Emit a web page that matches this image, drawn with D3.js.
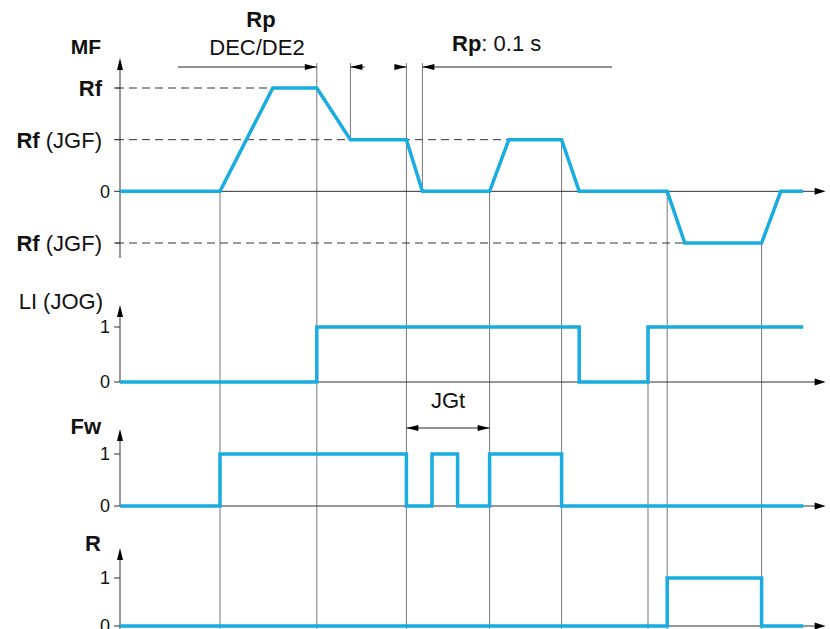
<!DOCTYPE html>
<html lang="en">
  <head>
    <meta charset="UTF-8" />
    <title>JOG timing</title>
    <script src="https://cdn.jsdelivr.net/npm/d3@7"></script>
    <style>
      html,
      body {
        margin: 0;
        padding: 0;
        background: #fff;
      }
      svg {
        display: block;
        font-family: 'Liberation Sans', Arial, sans-serif;
      }
    </style>
  </head>
  <body>
    <svg width="830" height="629"></svg>
    <script>
      // time in seconds (Rp = 0.1 s)
      const mfTimes = [0, 0.625, 0.955, 1.23, 1.44, 1.79, 1.89, 2.31, 2.43, 2.76, 2.87, 3.42, 3.53, 4.01, 4.13, 4.27];
      const mfValues = [0, 0, 2, 2, 1, 1, 0, 0, 1, 1, 0, 0, -1, -1, 0, 0];

      const liTimes = [0, 1.23, 2.87, 3.3, 4.27];
      const liValues = [0, 1, 0, 1, 1];

      const fwTimes = [0, 0.625, 1.79, 1.95, 2.11, 2.31, 2.76, 4.27];
      const fwValues = [0, 1, 0, 1, 0, 1, 0, 0];

      const rTimes = [0, 3.42, 4.01, 4.27];
      const rValues = [0, 1, 0, 0];

      // MF levels: Rf = 2, Rf (JGF) = 1, 0, -Rf (JGF) = -1
      const mfLevels = [2, 1, 0, -1];
      const mfLevelLabels = [['Rf', ''], ['Rf', ' (JGF)'], ['', '0'], ['Rf', ' (JGF)']];

      // vertical reference lines: time and where they start
      const markerTimes = [0.625, 1.23, 1.44, 1.79, 1.89, 2.31, 2.76, 3.3, 3.42, 4.01];
      const markerStart = ['mf0', 'top', 'top', 'top', 'top', 'mf0', 'mf1', 'li0', 'mf0', 'mfm1'];
      const markerEnd = ['bottom', 'bottom', 'mf1', 'bottom', 'mf0', 'bottom', 'bottom', 'bottom', 'bottom', 'bottom'];

      const svg = d3.select('svg');
      const W = 830, H = 629;
      const blue = '#19ace0';
      const axisColor = '#333';
      const gridColor = '#777';

      const x = d3.scaleLinear().domain([0, 4.41]).range([120, 825.6]);
      const yMF = d3.scaleLinear().domain([-1, 2]).range([243, 88]);
      const yLI = d3.scaleLinear().domain([0, 1]).range([382, 327]);
      const yFw = d3.scaleLinear().domain([0, 1]).range([506, 454]);
      const yR = d3.scaleLinear().domain([0, 1]).range([626, 578]);

      const annotY = 67;
      const yRef = {
        top: annotY - 4,
        bottom: H,
        mf0: yMF(0),
        mf1: yMF(1),
        mfm1: yMF(-1),
        li0: yLI(0)
      };

      function tri(g, px, py, dir, len, half, color) {
        let pts;
        if (dir === 'right') pts = [[px, py], [px - len, py - half], [px - len, py + half]];
        if (dir === 'left') pts = [[px, py], [px + len, py - half], [px + len, py + half]];
        if (dir === 'up') pts = [[px, py], [px - half, py + len], [px + half, py + len]];
        g.append('path')
          .attr('d', 'M' + pts.join('L') + 'Z')
          .attr('fill', color || '#000');
      }

      // grid lines
      const grid = svg.append('g');
      markerTimes.forEach(function(t, i) {
        grid.append('line')
          .attr('x1', x(t)).attr('x2', x(t))
          .attr('y1', yRef[markerStart[i]])
          .attr('y2', yRef[markerEnd[i]])
          .attr('stroke', gridColor)
          .attr('stroke-width', 1);
      });

      // dashed level lines in MF
      const dashEnds = [0.955, 2.43, null, 3.53];
      mfLevels.forEach(function(v, i) {
        if (dashEnds[i] === null) return;
        svg.append('line')
          .attr('x1', 116).attr('x2', x(dashEnds[i]))
          .attr('y1', yMF(v)).attr('y2', yMF(v))
          .attr('stroke', '#333')
          .attr('stroke-width', 1)
          .attr('stroke-dasharray', '8,5');
      });

      // axes for each panel
      const panels = [
        { y: yMF, top: 58, bottom: 258, zero: yMF(0), ticks: mfLevels },
        { y: yLI, top: 305, bottom: yLI(0), zero: yLI(0), ticks: [1, 0] },
        { y: yFw, top: 429, bottom: yFw(0), zero: yFw(0), ticks: [1, 0] },
        { y: yR, top: 548, bottom: H, zero: yR(0), ticks: [1, 0] }
      ];
      const axes = svg.append('g');
      panels.forEach(function(p) {
        axes.append('line')
          .attr('x1', 120).attr('x2', 120)
          .attr('y1', p.top + 6).attr('y2', p.bottom)
          .attr('stroke', axisColor).attr('stroke-width', 1);
        tri(axes, 120, p.top, 'up', 12, 3);
        axes.append('line')
          .attr('x1', 120).attr('x2', x(4.41) - 6)
          .attr('y1', p.zero).attr('y2', p.zero)
          .attr('stroke', axisColor).attr('stroke-width', 1);
        tri(axes, x(4.41), p.zero, 'right', 11, 3.5);
        p.ticks.forEach(function(v) {
          axes.append('line')
            .attr('x1', 114).attr('x2', 120)
            .attr('y1', p.y(v)).attr('y2', p.y(v))
            .attr('stroke', axisColor).attr('stroke-width', 1);
        });
      });

      // signals
      function drawSignal(times, values, y, curve) {
        const line = d3.line()
          .x(function(d) { return x(d[0]); })
          .y(function(d) { return y(d[1]); })
          .curve(curve);
        svg.append('path')
          .datum(d3.zip(times, values))
          .attr('d', line)
          .attr('fill', 'none')
          .attr('stroke', blue)
          .attr('stroke-width', 3.5)
          .attr('stroke-linejoin', 'miter');
      }
      drawSignal(mfTimes, mfValues, yMF, d3.curveLinear);
      drawSignal(liTimes, liValues, yLI, d3.curveStepAfter);
      drawSignal(fwTimes, fwValues, yFw, d3.curveStepAfter);
      drawSignal(rTimes, rValues, yR, d3.curveStepAfter);

      // labels
      const labels = svg.append('g').attr('fill', '#111');
      function label(px, py, bold, normal, size, anchor) {
        const t = labels.append('text')
          .attr('x', px).attr('y', py)
          .attr('dy', '0.36em')
          .attr('font-size', size)
          .attr('text-anchor', anchor || 'end');
        if (bold) t.append('tspan').attr('font-weight', 'bold').text(bold);
        if (normal) t.append('tspan').text(normal);
      }

      label(101, 46, 'MF', '', 21);
      mfLevels.forEach(function(v, i) {
        const l = mfLevelLabels[i];
        if (l[0]) label(102, yMF(v), l[0], l[1], 22);
        else label(110, yMF(v), '', l[1], 18);
      });
      label(103, 301, '', 'LI (JOG)', 22);
      label(101, 426, 'Fw', '', 22);
      label(101, 543, 'R', '', 22);
      [yLI, yFw, yR].forEach(function(y) {
        label(110, y(1), '', '1', 18);
        label(110, y(0), '', '0', 18);
      });

      label(261, 19, 'Rp', '', 22, 'middle');
      label(257, 47, '', 'DEC/DE2', 22, 'middle');
      label(452, 43, 'Rp', ': 0.1 s', 22, 'start');
      label(x(2.05), 400, '', 'JGt', 22, 'middle');

      // ramp time annotations
      const ann = svg.append('g');
      function hline(t1, t2, py) {
        ann.append('line')
          .attr('x1', x(t1)).attr('x2', x(t2))
          .attr('y1', py).attr('y2', py)
          .attr('stroke', '#222').attr('stroke-width', 1);
      }
      hline(0.3625, 1.23, annotY);
      tri(ann, x(1.23), annotY, 'right', 12, 3);
      hline(1.44, 1.53, annotY);
      tri(ann, x(1.44), annotY, 'left', 12, 3);
      hline(1.72, 1.79, annotY);
      tri(ann, x(1.79), annotY, 'right', 12, 3);
      hline(1.89, 3.075, annotY);
      tri(ann, x(1.89), annotY, 'left', 12, 3);

      hline(1.79, 2.31, 428);
      tri(ann, x(1.79), 428, 'left', 12, 3);
      tri(ann, x(2.31), 428, 'right', 12, 3);
    </script>
  </body>
</html>
